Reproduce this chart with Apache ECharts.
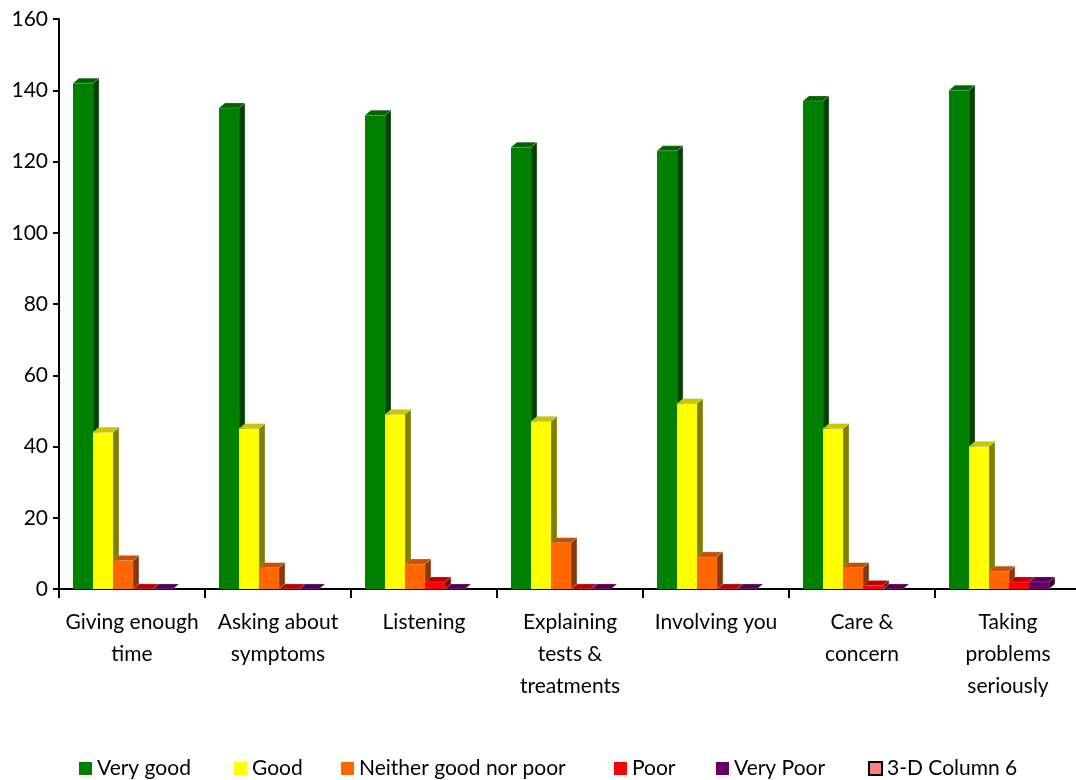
<!DOCTYPE html>
<html>
<head>
<meta charset="utf-8">
<title>Rating of consultation</title>
<script src="https://cdn.jsdelivr.net/npm/echarts@6/dist/echarts.min.js"></script>
<style>
  html, body { margin: 0; padding: 0; background: #ffffff; overflow: hidden; }
  #chart { width: 1090px; height: 780px; }
</style>
</head>
<body>
<div id="chart"></div>
<script>
// Categories along the x axis (line breaks as printed under each group)
const categories = [
  'Giving enough\ntime',
  'Asking about\nsymptoms',
  'Listening',
  'Explaining\ntests &\ntreatments',
  'Involving you',
  'Care &\nconcern',
  'Taking\nproblems\nseriously'
];

// Series names, in legend order
const seriesNames = ['Very good', 'Good', 'Neither good nor poor', 'Poor', 'Very Poor', '3-D Column 6'];

// Counts per category
const veryGood = [142, 135, 133, 124, 123, 137, 140];
const good = [44, 45, 49, 47, 52, 45, 40];
const neither = [8, 6, 7, 13, 9, 6, 5];
const poor = [0, 0, 2, 0, 0, 1, 2];
const veryPoor = [0, 0, 0, 0, 0, 0, 2];
const column6 = [];

// Value axis range
const yMin = 0;
const yMax = 160;
const yStep = 20;

const seriesValues = [veryGood, good, neither, poor, veryPoor, column6];

// Face shading for each series: front, top, right side
const faces = [
  { front: '#008000', top: '#006400', side: '#004000' },
  { front: '#ffff00', top: '#c8c800', side: '#808000' },
  { front: '#ff6600', top: '#c85000', side: '#843a06' },
  { front: '#ff0000', top: '#c00000', side: '#800000' },
  { front: '#660066', top: '#520052', side: '#330033' },
  { front: '#ff8080', top: '#cc6666', side: '#804040' }
];

// Column geometry as fractions of a category band, plus the 3-D depth offset in px
const GROUP_OFFSET = 14 / 146.1;
const BAR_WIDTH = 20 / 146.1;
const DEPTH_X = 6;
const DEPTH_Y = 5;

const FONT = 'Lato, "Open Sans", sans-serif';

function makeRenderer(idx) {
  const f = faces[idx];
  return function (params, api) {
    const cat = api.value(0);
    const v = api.value(1);
    const band = api.size([1, 0])[0];
    const base = api.coord([cat, 0]);
    const topPt = api.coord([cat, v]);
    const w = band * BAR_WIDTH;
    const x = base[0] - band / 2 + band * GROUP_OFFSET + idx * w;
    const y0 = base[1];
    const y1 = topPt[1];
    const children = [];
    const h = y0 - y1;
    if (h > 0.01) {
      children.push({
        type: 'polygon',
        shape: { points: [[x + w, y1], [x + w + DEPTH_X, y1 - DEPTH_Y], [x + w + DEPTH_X, y0 - DEPTH_Y], [x + w, y0]] },
        style: { fill: f.side, stroke: 'rgba(200,200,200,0.6)', lineWidth: 0.6 }
      });
      children.push({
        type: 'rect',
        shape: { x: x, y: y1, width: w, height: h },
        style: { fill: f.front }
      });
    }
    children.push({
      type: 'polygon',
      shape: { points: [[x, y1], [x + w, y1], [x + w + DEPTH_X, y1 - DEPTH_Y], [x + DEPTH_X, y1 - DEPTH_Y]] },
      style: { fill: f.top, stroke: 'rgba(200,200,200,0.5)', lineWidth: 0.5 }
    });
    return { type: 'group', children: children };
  };
}

const series = seriesNames.map(function (name, idx) {
  return {
    name: name,
    type: 'custom',
    renderItem: makeRenderer(idx),
    encode: { x: 0, y: 1 },
    itemStyle: { color: faces[idx].front },
    silent: true,
    animation: false,
    data: seriesValues[idx].map(function (v, i) { return [i, v]; })
  };
});

// One legend block per entry, so each sits at its own spot on the bottom row
const legendLeft = [79, 234, 341, 614, 716, 868];
const legends = seriesNames.map(function (name, idx) {
  const item = { name: name, icon: 'rect', itemStyle: { color: faces[idx].front } };
  if (idx === 5) {
    item.itemStyle = { color: '#ff8080', borderColor: '#000000', borderWidth: 2 };
  }
  return {
    data: [item],
    left: legendLeft[idx],
    top: 758,
    padding: 0,
    itemWidth: 13,
    itemHeight: 13,
    selectedMode: false,
    textStyle: { color: '#000000', fontFamily: FONT, fontSize: 21, padding: [0, 0, 0, 0] }
  };
});

const chart = echarts.init(document.getElementById('chart'), null, { renderer: 'canvas' });
chart.setOption({
  backgroundColor: '#ffffff',
  animation: false,
  legend: legends,
  grid: { left: 59, right: 9, top: 19, bottom: 191, containLabel: false },
  xAxis: {
    type: 'category',
    data: categories,
    boundaryGap: true,
    axisLine: { show: true, lineStyle: { color: '#000000', width: 2 } },
    axisTick: { show: true, alignWithLabel: false, length: 9, lineStyle: { color: '#000000', width: 2 } },
    axisLabel: {
      interval: 0,
      color: '#000000',
      fontFamily: FONT,
      fontSize: 21,
      lineHeight: 32,
      margin: 17
    },
    splitLine: { show: false }
  },
  yAxis: {
    type: 'value',
    min: yMin,
    max: yMax,
    interval: yStep,
    axisLine: { show: true, lineStyle: { color: '#000000', width: 2 } },
    axisTick: { show: true, length: 6, lineStyle: { color: '#000000', width: 2 } },
    axisLabel: { color: '#000000', fontFamily: FONT, fontSize: 21, margin: 11 },
    splitLine: { show: false }
  },
  series: series
});
</script>
</body>
</html>
